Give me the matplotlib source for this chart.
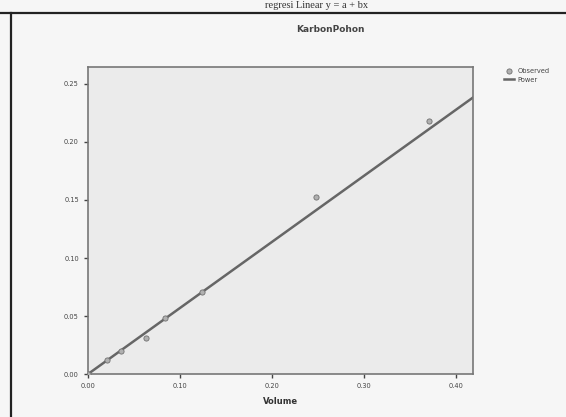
import numpy as np
import matplotlib
matplotlib.use("Agg")
import matplotlib.pyplot as plt

# observed points (Volume vs KarbonPohon)
volume = [0.0, 0.021, 0.036, 0.063, 0.084, 0.124, 0.248, 0.370]
karbon = [0.0, 0.012, 0.020, 0.031, 0.048, 0.071, 0.153, 0.218]

# power model y = a * x^b
power_a = 0.57
power_b = 1.0

x_ticks = [0.00, 0.10, 0.20, 0.30, 0.40]
y_ticks = [0.00, 0.05, 0.10, 0.15, 0.20, 0.25]

fig = plt.figure(figsize=(5.66, 4.17), dpi=100)
fig.patch.set_facecolor("#f6f6f6")

# bits of the scanned page: table border and the line of text above
fig.add_artist(plt.Line2D([0.0, 1.0], [0.970, 0.970], color="#222222", lw=1.6))
fig.add_artist(plt.Line2D([0.020, 0.020], [0.0, 0.970], color="#222222", lw=1.6))
fig.text(0.56, 0.986, "regresi Linear y = a + bx", family="Liberation Serif",
         fontsize=7.5, ha="center", va="center", color="#333333")

ax = fig.add_axes([0.1555, 0.103, 0.680, 0.736])
ax.set_facecolor("#ebebeb")

xs = np.linspace(0, 0.418, 200)
ax.plot(xs, power_a * xs ** power_b, color="#666666", lw=1.8, label="Power")
ax.scatter(volume, karbon, s=14, facecolor="#b0b0b0", edgecolor="#707070",
           lw=0.6, zorder=3, label="Observed")

ax.set_xlim(0, 0.418)
ax.set_ylim(0, 0.2645)
ax.set_xticks(x_ticks)
ax.set_yticks(y_ticks)
ax.set_xticklabels([f"{v:.2f}" for v in x_ticks])
ax.set_yticklabels([f"{v:.2f}" for v in y_ticks])
ax.tick_params(labelsize=4.8, colors="#444444", length=3, width=1.0)
for s in ax.spines.values():
    s.set_color("#777777")
    s.set_linewidth(1.2)

ax.set_xlabel("Volume", fontsize=6, fontweight="bold", color="#333333", labelpad=6)

fig.text(0.583, 0.930, "KarbonPohon", fontsize=6.5, fontweight="bold",
         ha="center", va="center", color="#444444")

h, l = ax.get_legend_handles_labels()
fig.legend(h[::-1], l[::-1], loc="upper left", bbox_to_anchor=(0.885, 0.845),
           frameon=False, fontsize=4.8, handlelength=1.5, borderpad=0,
           labelspacing=0.4, handletextpad=0.5, labelcolor="#444444")

fig.savefig("out.png", dpi=100, facecolor=fig.get_facecolor())
